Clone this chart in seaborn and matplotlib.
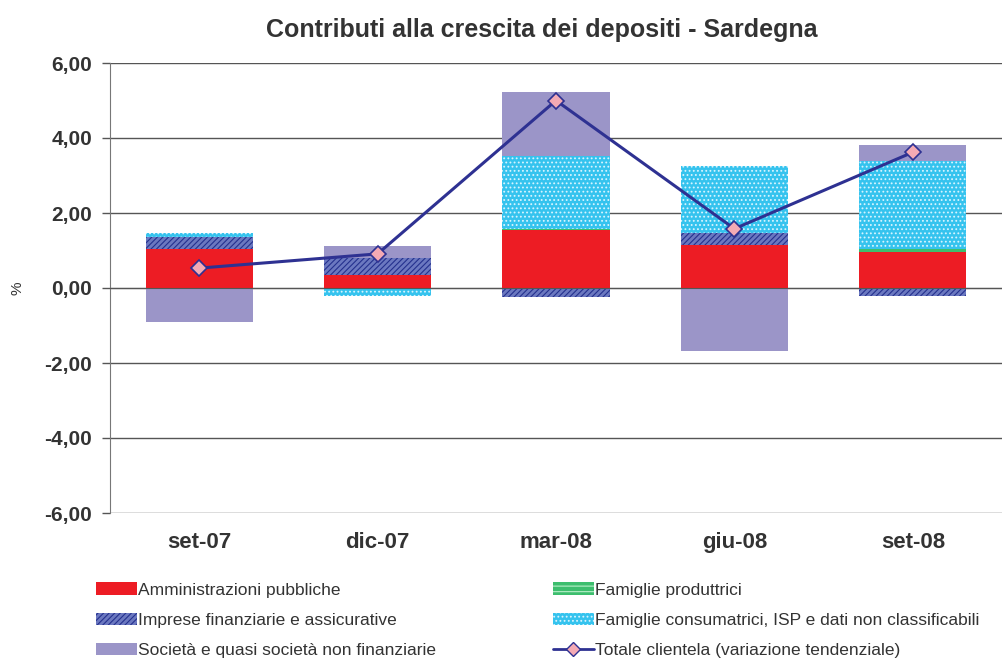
import numpy as np
import matplotlib
matplotlib.use("Agg")
import matplotlib.pyplot as plt
import seaborn as sns
from matplotlib.patches import Patch
from matplotlib.lines import Line2D

# Data (percent contributions)
periods = ["set-07", "dic-07", "mar-08", "giu-08", "set-08"]
amministrazioni = [1.04, 0.35, 1.55, 1.15, 0.97]
famiglie_prod = [-0.03, 0.00, 0.03, -0.02, 0.07]
imprese_fin = [0.32, 0.46, -0.25, 0.33, -0.20]
famiglie_cons = [0.11, -0.20, 1.95, 1.78, 2.34]
societa = [-0.87, 0.31, 1.71, -1.65, 0.43]
totale = [0.53, 0.91, 5.00, 1.58, 3.62]
yticks = [-6, -4, -2, 0, 2, 4, 6]
ytick_labels = ["-6,00", "-4,00", "-2,00", "0,00", "2,00", "4,00", "6,00"]

series = [
    ("Amministrazioni pubbliche", amministrazioni, dict(color="#ED1C24")),
    ("Famiglie produttrici", famiglie_prod, dict(color="#3DBE6E", hatch="---", edgecolor="#B9EFC9")),
    ("Imprese finanziarie e assicurative", imprese_fin, dict(color="#6B78C0", hatch="//////", edgecolor="#25318E")),
    ("Famiglie consumatrici, ISP e dati non classificabili", famiglie_cons, dict(color="#35C3EE", hatch="....", edgecolor="#D8F4FF")),
    ("Società e quasi società non finanziarie", societa, dict(color="#9B95C8")),
]

sns.set_style("white")
plt.rcParams["font.family"] = ["Liberation Sans", "DejaVu Sans"]
plt.rcParams["hatch.linewidth"] = 0.8
text_col = "#333333"

fig = plt.figure(figsize=(10.02, 6.59), dpi=100)
ax = fig.add_axes([110 / 1002, 1 - 513 / 659, 1 - 110 / 1002, 450 / 659])

x = np.arange(len(periods))
pos_base = np.zeros(len(periods))
neg_base = np.zeros(len(periods))
handles = {}
for name, vals, style in series:
    v = np.array(vals)
    bottoms = np.where(v >= 0, pos_base, neg_base)
    kw = dict(style)
    ax.bar(x, v, width=0.6, bottom=bottoms, linewidth=0, zorder=2, **kw)
    pos_base += np.where(v >= 0, v, 0)
    neg_base += np.where(v < 0, v, 0)
    handles[name] = Patch(facecolor=kw.get("color"), hatch=kw.get("hatch"),
                          edgecolor=kw.get("edgecolor", kw.get("color")), linewidth=0)

line_df = {"x": x, "totale": totale}
sns.lineplot(x="x", y="totale", data=line_df, ax=ax, color="#2E3192", linewidth=2.2,
             marker="D", markersize=8, markerfacecolor="#F4AAB4",
             markeredgecolor="#2E3192", markeredgewidth=1.2, zorder=4)

ax.set_xlim(-0.5, -0.5 + (1002 - 110) / 180)
ax.set_ylim(-6, 6)
ax.set_yticks(yticks)
ax.set_yticklabels(ytick_labels, fontsize=15, fontweight="bold", color=text_col)
ax.yaxis.grid(True, color="#555555", linewidth=1.0, zorder=0)
ax.tick_params(axis="y", direction="out", length=6, width=1, color="#555555", pad=7, left=True)

for s in ["top", "right"]:
    ax.spines[s].set_visible(False)
ax.spines["left"].set_color("#777777")
ax.spines["bottom"].set_position(("data", 0))
ax.spines["bottom"].set_color("#555555")
ax.spines["bottom"].set_zorder(3)
ax.set_xticks([])
ax.set_xticks(np.arange(-0.5, 5, 1.0), minor=True)
ax.tick_params(axis="x", which="minor", direction="out", length=6, width=1, color="#555555")

sec = ax.secondary_xaxis(0.0)
sec.set_xticks(x)
sec.set_xticklabels(periods, fontsize=16, fontweight="bold", color=text_col)
sec.tick_params(length=0, pad=14)
sec.spines["bottom"].set_visible(False)

ax.set_xlabel("")
ax.set_ylabel("%", fontsize=11, color=text_col, labelpad=14)

fig.text(0.541, 0.955, "Contributi alla crescita dei depositi - Sardegna",
         ha="center", va="center", fontsize=18, fontweight="bold", color=text_col)

order = ["Amministrazioni pubbliche", "Imprese finanziarie e assicurative",
         "Società e quasi società non finanziarie", "Famiglie produttrici",
         "Famiglie consumatrici, ISP e dati non classificabili"]
leg_handles = [handles[n] for n in order]
leg_handles.append(Line2D([0], [0], color="#2E3192", linewidth=2, marker="D", markersize=7,
                          markerfacecolor="#F4AAB4", markeredgecolor="#2E3192"))
leg_labels = order + ["Totale clientela (variazione tendenziale)"]
fig.legend(leg_handles, leg_labels, ncol=2, frameon=False, fontsize=12.5,
           loc="upper left", bbox_to_anchor=(0.08, 0.14), bbox_transform=fig.transFigure,
           handlelength=2.4, handleheight=0.75, handletextpad=0.05, columnspacing=6.7,
           labelspacing=0.85, labelcolor=text_col)

fig.savefig("out.png", dpi=100)
